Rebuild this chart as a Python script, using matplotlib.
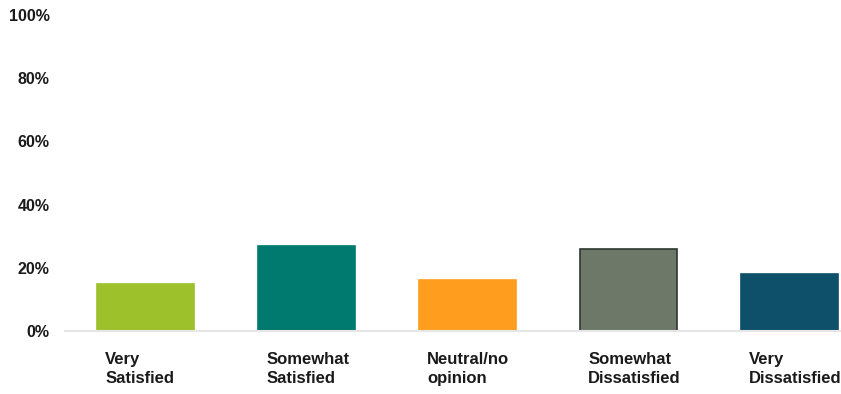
import matplotlib.pyplot as plt
import numpy as np

plt.rcParams['font.family'] = ['Liberation Sans', 'DejaVu Sans']

# Satisfaction categories and share of responses (%)
categories = ['Very\nSatisfied', 'Somewhat\nSatisfied', 'Neutral/no\nopinion',
              'Somewhat\nDissatisfied', 'Very\nDissatisfied']
values = [15, 27, 16, 26, 18]
colors = ['#9CC12A', '#00796F', '#FF9E1E', '#6D7868', '#0E4F69']
edges = ['#9CC12A', '#00796F', '#FF9E1E', '#2E3731', '#0E4F69']
yticks = [0, 20, 40, 60, 80, 100]

fig = plt.figure(figsize=(8.41, 3.94), dpi=100)
ax = fig.add_axes([65 / 841, (394 - 331) / 394, 1 - 65 / 841, 316 / 394])

x = np.arange(len(categories))
ax.bar(x, values, width=0.6, color=colors, edgecolor=edges, linewidth=1.2, zorder=2)

ax.set_xlim(-0.5, 4.32)
ax.set_ylim(0, 100)
ax.set_yticks(yticks)
ax.set_yticklabels([f'{t}%' for t in yticks], fontsize=11.5, fontweight='bold', color='#1a1a1a')
ax.tick_params(axis='y', length=0, pad=11)
ax.set_xticks([])

for s in ['top', 'right', 'left']:
    ax.spines[s].set_visible(False)
ax.spines['bottom'].set_color('#e6e6e6')
ax.spines['bottom'].set_linewidth(1.5)

# category labels under each bar, left aligned
for i, lab in enumerate(categories):
    ax.text(i - 0.25, -6.5, lab, ha='left', va='top', fontsize=12,
            fontweight='bold', color='#1a1a1a', linespacing=1.4)

fig.savefig('out.png', dpi=100)
